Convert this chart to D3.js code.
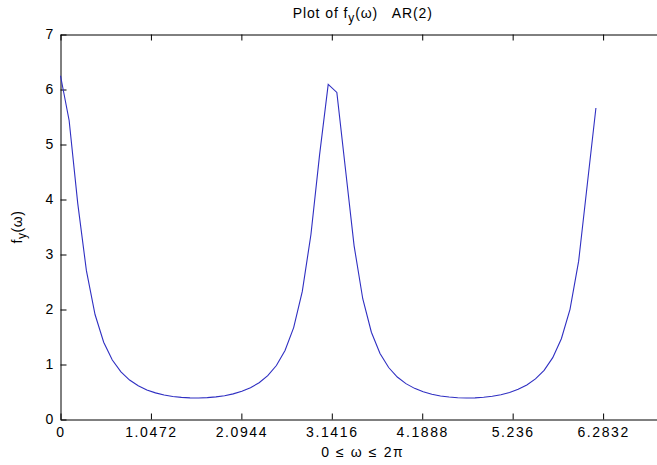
<!DOCTYPE html>
<html>
<head>
<meta charset="utf-8">
<script src="https://cdn.jsdelivr.net/npm/d3@7"></script>
<style>
  body { margin: 0; background: #fff; }
  text { font-family: "Liberation Sans", Arial, sans-serif; fill: #000; white-space: pre; }
</style>
</head>
<body>
<div id="chart-area"></div>
<script>
// Spectral density of the AR(2) process
const omega = [
  0.0, 0.1, 0.2, 0.3, 0.4, 0.5, 0.6, 0.7, 0.8, 0.9,
  1.0, 1.1, 1.2, 1.3, 1.4, 1.5, 1.6, 1.7, 1.8, 1.9,
  2.0, 2.1, 2.2, 2.3, 2.4, 2.5, 2.6, 2.7, 2.8, 2.9,
  3.0, 3.1, 3.2, 3.3, 3.4, 3.5, 3.6, 3.7, 3.8, 3.9,
  4.0, 4.1, 4.2, 4.3, 4.4, 4.5, 4.6, 4.7, 4.8, 4.9,
  5.0, 5.1, 5.2, 5.3, 5.4, 5.5, 5.6, 5.7, 5.8, 5.9,
  6.0, 6.1, 6.2
];
const fy = [
  6.25, 5.437, 3.926, 2.706, 1.909, 1.405, 1.081, 0.865, 0.717, 0.613,
  0.538, 0.484, 0.446, 0.419, 0.402, 0.393, 0.391, 0.397, 0.411, 0.433,
  0.466, 0.513, 0.578, 0.669, 0.797, 0.981, 1.254, 1.671, 2.329, 3.363,
  4.812, 6.092, 5.946, 4.551, 3.157, 2.196, 1.587, 1.199, 0.945, 0.772,
  0.652, 0.566, 0.504, 0.460, 0.428, 0.408, 0.395, 0.391, 0.393, 0.404,
  0.423, 0.451, 0.492, 0.549, 0.628, 0.738, 0.895, 1.124, 1.469, 2.004,
  2.879, 4.273, 5.664
];

const xTickLabels = ["0", "1.0472", "2.0944", "3.1416", "4.1888", "5.236", "6.2832"];
const yTickLabels = ["0", "1", "2", "3", "4", "5", "6", "7"];

const width = 657;
const height = 465;

// axes box (right edge runs past the picture, as in the original)
const boxLeft = 60.5, boxRight = 665, boxTop = 34.5, boxBottom = 419.5;

const svg = d3.select("#chart-area")
  .append("svg")
  .attr("width", width)
  .attr("height", height)
  .style("display", "block");

svg.append("rect")
  .attr("width", width)
  .attr("height", height)
  .attr("fill", "#fff");

const x = d3.scaleLinear().domain([0, 7]).range([boxLeft, boxRight]);
const y = d3.scaleLinear().domain([0, 7]).range([boxBottom, boxTop]);

const xTickVals = xTickLabels.map(Number);
const yTickVals = yTickLabels.map(Number);

// bottom axis with labels, ticks point inward
svg.append("g")
  .attr("transform", `translate(0,${boxBottom})`)
  .call(d3.axisBottom(x)
    .tickValues(xTickVals)
    .tickFormat((d, i) => xTickLabels[i])
    .tickSizeInner(-6)
    .tickSizeOuter(0)
    .tickPadding(7.5));

// top axis, ticks only
svg.append("g")
  .attr("transform", `translate(0,${boxTop})`)
  .call(d3.axisTop(x)
    .tickValues(xTickVals)
    .tickFormat("")
    .tickSizeInner(-6)
    .tickSizeOuter(0));

// left axis with labels
svg.append("g")
  .attr("transform", `translate(${boxLeft},0)`)
  .call(d3.axisLeft(y)
    .tickValues(yTickVals)
    .tickFormat((d, i) => yTickLabels[i])
    .tickSizeInner(-6)
    .tickSizeOuter(0)
    .tickPadding(5.5));

// right axis (mostly off screen)
svg.append("g")
  .attr("transform", `translate(${boxRight},0)`)
  .call(d3.axisRight(y)
    .tickValues(yTickVals)
    .tickFormat("")
    .tickSizeInner(-6)
    .tickSizeOuter(0));

svg.selectAll(".domain, .tick line")
  .attr("stroke", "#000")
  .attr("stroke-width", 1);

svg.selectAll(".tick text")
  .attr("fill", "#111")
  .style("font-family", "'Liberation Sans', Arial, sans-serif")
  .style("font-size", "14px")
  .style("letter-spacing", "1.6px");

// the curve
const line = d3.line()
  .x((d, i) => x(omega[i]))
  .y(d => y(d));

svg.append("path")
  .datum(fy)
  .attr("fill", "none")
  .attr("stroke", "#2f2fc2")
  .attr("stroke-width", 1.1)
  .attr("d", line);

// title
const title = svg.append("text")
  .attr("x", (boxLeft + boxRight) / 2)
  .attr("y", 18)
  .attr("text-anchor", "middle")
  .style("font-size", "14px")
  .style("letter-spacing", "0.9px");
title.append("tspan").text("Plot of f");
title.append("tspan").attr("dy", 4).style("font-size", "12px").text("y");
title.append("tspan").attr("dy", -4).text("(\u03c9)   AR(2)");

// x label
svg.append("text")
  .attr("x", (boxLeft + boxRight) / 2)
  .attr("y", 457)
  .attr("text-anchor", "middle")
  .style("font-size", "14px")
  .style("letter-spacing", "1.6px")
  .text("0 \u2264 \u03c9 \u2264 2\u03c0");

// y label
const ylab = svg.append("text")
  .attr("transform", `translate(22,${(boxTop + boxBottom) / 2}) rotate(-90)`)
  .attr("text-anchor", "middle")
  .style("font-size", "14px")
  .style("letter-spacing", "0.6px");
ylab.append("tspan").text("f");
ylab.append("tspan").attr("dy", 4).style("font-size", "12px").text("y");
ylab.append("tspan").attr("dy", -4).text("(\u03c9)");
</script>
</body>
</html>
